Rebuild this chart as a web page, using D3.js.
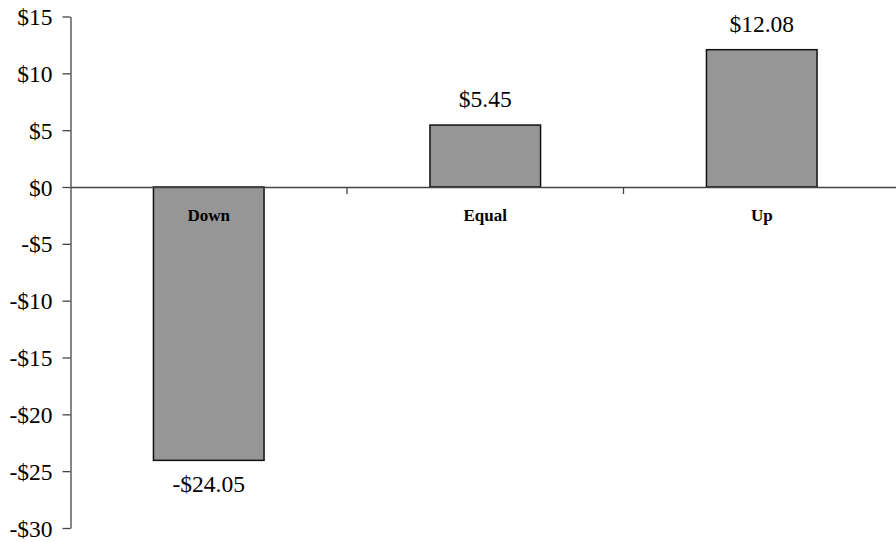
<!DOCTYPE html>
<html>
<head>
<meta charset="utf-8">
<script src="https://cdn.jsdelivr.net/npm/d3@7"></script>
<style>
  body { margin: 0; background: #fff; }
</style>
</head>
<body>
<svg id="chart" width="896" height="542"></svg>
<script>
// values
const categories = ["Down", "Equal", "Up"];
const values = [-24.05, 5.45, 12.08];
const valueLabels = ["-$24.05", "$5.45", "$12.08"];
const yTicks = [15, 10, 5, 0, -5, -10, -15, -20, -25, -30];

const serif = "'Times New Roman', Times, 'Liberation Serif', 'DejaVu Serif', serif";

const svg = d3.select("#chart").style("font-family", serif);

const x = d3.scaleBand()
    .domain(categories)
    .range([70.5, 900])
    .paddingInner(0.6)
    .paddingOuter(0.3);

const y = d3.scaleLinear()
    .domain([-30, 15])
    .range([528, 16.5]);

const fmt = d => (d < 0 ? "-$" : "$") + Math.abs(d);

// y axis
let yAxis = svg.append("g")
    .attr("transform", "translate(70.5,0)")
    .call(d3.axisLeft(y).tickValues(yTicks).tickFormat(fmt).tickSize(8).tickPadding(10).tickSizeOuter(0));
yAxis.attr("font-family", serif).attr("font-size", 23.5);
yAxis.select(".domain").attr("stroke", "#444").attr("stroke-width", 1.3);
yAxis.selectAll(".tick line").attr("stroke", "#444").attr("stroke-width", 1.3);
yAxis.selectAll(".tick text").attr("fill", "#000").attr("dy", "0.34em");

// bars
svg.selectAll("rect.bar")
    .data(values)
    .join("rect")
    .attr("class", "bar")
    .attr("x", (d, i) => x(categories[i]))
    .attr("width", x.bandwidth())
    .attr("y", d => y(Math.max(0, d)))
    .attr("height", d => Math.abs(y(d) - y(0)))
    .attr("fill", "#969696")
    .attr("stroke", "#111")
    .attr("stroke-width", 1.5);

// zero line / category axis
let xAxis = svg.append("g")
    .attr("transform", "translate(0," + y(0) + ")")
    .call(d3.axisBottom(x).tickSize(0).tickFormat(""));
xAxis.select(".domain").attr("stroke", "#444").attr("stroke-width", 1.3);
xAxis.selectAll(".tick").remove();

// category dividers
const dividers = categories.slice(1);
svg.selectAll("line.div")
    .data(dividers)
    .join("line")
    .attr("class", "div")
    .attr("x1", d => x(d) - x.step() * x.paddingInner() / 2)
    .attr("x2", d => x(d) - x.step() * x.paddingInner() / 2)
    .attr("y1", y(0))
    .attr("y2", y(0) + 7)
    .attr("stroke", "#444")
    .attr("stroke-width", 1.3);

// category labels
svg.selectAll("text.cat")
    .data(categories)
    .join("text")
    .attr("class", "cat")
    .attr("x", d => x(d) + x.bandwidth() / 2)
    .attr("y", y(0) + 34)
    .attr("text-anchor", "middle")
    .attr("font-size", 17)
    .attr("font-weight", "bold")
    .text(d => d);

// value labels
svg.selectAll("text.val")
    .data(values)
    .join("text")
    .attr("class", "val")
    .attr("x", (d, i) => x(categories[i]) + x.bandwidth() / 2)
    .attr("y", d => d >= 0 ? y(d) - 18 : y(d) + 32)
    .attr("text-anchor", "middle")
    .attr("font-size", 23.5)
    .text((d, i) => valueLabels[i]);
</script>
</body>
</html>
